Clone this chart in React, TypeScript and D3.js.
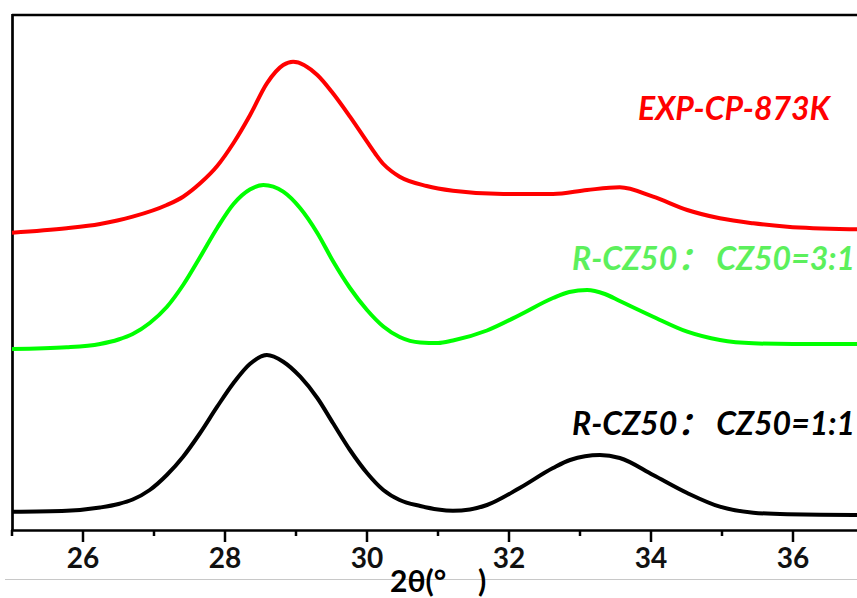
import React from "react";
import * as d3 from "d3";

// 2θ (degrees) sample positions and intensities (a.u.)
const blackAngles = [25.0, 25.77, 26.24, 26.5, 26.7, 26.94, 27.18, 27.41, 27.65, 27.89, 28.12, 28.35, 28.59, 28.82, 29.06, 29.3, 29.52, 29.76, 30.0, 30.23, 30.46, 30.75, 31.0, 31.21, 31.45, 31.69, 32.15, 32.62, 32.86, 33.28, 33.56, 34.03, 34.51, 34.97, 35.44, 35.92, 36.85, 37.0];
const blackValues = [18.3, 19.3, 22.5, 26, 30.5, 40, 55, 73.3, 97, 123.3, 147, 166, 175, 168.3, 153.3, 132, 107, 80, 57, 40, 30, 24, 20.5, 19.3, 20.5, 25, 42, 62, 70, 75, 72, 55, 37, 23.3, 17.3, 15.7, 15, 15];

const greenAngles = [25.0, 25.77, 26.24, 26.5, 26.7, 26.94, 27.18, 27.41, 27.65, 27.89, 28.12, 28.35, 28.54, 28.82, 29.06, 29.3, 29.52, 29.76, 30.0, 30.23, 30.46, 30.75, 31.0, 31.21, 31.69, 32.15, 32.62, 32.85, 33.1, 33.35, 33.56, 34.03, 34.51, 34.97, 35.44, 36.0, 36.85, 37.0];
const greenValues = [181, 182.7, 186, 190.5, 196, 207, 223, 245, 273, 302, 326, 340.5, 345, 338.3, 321.7, 297, 269, 242, 220, 203.5, 193, 187.5, 187, 189.5, 199.5, 215, 232, 238, 240, 236, 229, 213.3, 198.3, 190, 186.7, 186, 186, 186];

const redAngles = [25.0, 25.77, 26.24, 26.7, 27.18, 27.41, 27.65, 27.89, 28.12, 28.35, 28.59, 28.82, 28.96, 29.3, 29.52, 29.76, 30.0, 30.12, 30.23, 30.35, 30.46, 30.84, 31.21, 31.92, 32.62, 33.1, 33.56, 34.03, 34.51, 34.97, 35.44, 35.92, 36.85, 37.0];
const redValues = [297.3, 301.7, 306, 313.3, 325, 333.3, 346.7, 364, 387, 414.5, 446.7, 465, 468.3, 455, 436.7, 413.3, 388.3, 376, 366, 358.5, 353.3, 344, 339.3, 336, 336, 340, 342.7, 333.3, 320, 311.7, 306.7, 303.3, 300.7, 300.5];

const majorTicks = [26, 28, 30, 32, 34, 36];
const minorTicks = [25, 27, 29, 31, 33, 35, 37];

const seriesLabels = ["EXP-CP-873K", "R-CZ50： CZ50=3:1", "R-CZ50： CZ50=1:1"];
const xTitle = "2θ(°";

const W = 857;
const H = 598;

export default function App() {
  const x = d3.scaleLinear().domain([25, 37]).range([12, 864]);
  const y = d3.scaleLinear().domain([0, 515]).range([530, 15]);
  const line = d3
    .line<[number, number]>()
    .x((d) => x(d[0]))
    .y((d) => y(d[1]))
    .curve(d3.curveMonotoneX);

  const zip = (a: number[], b: number[]) => a.map((v, i) => [v, b[i]] as [number, number]);
  const series = [
    { pts: zip(redAngles, redValues), color: "#ff0000" },
    { pts: zip(greenAngles, greenValues), color: "#00ff00" },
    { pts: zip(blackAngles, blackValues), color: "#000000" },
  ];

  const labelFont = "Lato, 'Noto Sans CJK SC', sans-serif";

  return (
    <svg
      width={W}
      height={H}
      style={{ position: "absolute", left: 0, top: 0, background: "#fff" }}
    >
      <rect x={0} y={0} width={W} height={H} fill="#fff" />
      {/* faint line at bottom */}
      <line x1={5} x2={W} y1={579.5} y2={579.5} stroke="#c8c8c8" strokeWidth={1} />
      {/* frame */}
      <line x1={12} x2={W} y1={15} y2={15} stroke="#000" strokeWidth={2.7} />
      <line x1={12.5} x2={12.5} y1={14} y2={531} stroke="#000" strokeWidth={2.7} />
      <line x1={11} x2={W} y1={530.5} y2={530.5} stroke="#000" strokeWidth={2.7} />
      {majorTicks.map((t) => (
        <line key={"M" + t} x1={x(t)} x2={x(t)} y1={530} y2={542} stroke="#000" strokeWidth={2.5} />
      ))}
      {minorTicks.map((t) => (
        <line key={"m" + t} x1={x(t)} x2={x(t)} y1={530} y2={536} stroke="#000" strokeWidth={2.5} />
      ))}
      {majorTicks.map((t) => (
        <text
          key={"l" + t}
          x={x(t)}
          y={568}
          textAnchor="middle"
          fontFamily="Lato, sans-serif"
          fontWeight="bold"
          fontSize={28}
          fill="#111"
        >
          {t}
        </text>
      ))}
      <text x={390} y={592} fontFamily="Lato, sans-serif" fontWeight="bold" fontSize={30} fill="#000">
        {xTitle}
      </text>
      <text x={478} y={592} fontFamily="Lato, sans-serif" fontWeight="bold" fontSize={30} fill="#000">
        )
      </text>
      {series.map((s, i) => (
        <path
          key={i}
          d={line(s.pts) || ""}
          fill="none"
          stroke={s.color}
          strokeWidth={4}
          strokeLinejoin="round"
        />
      ))}
      <text x={638} y={120} fontFamily={labelFont} fontWeight="bold" fontStyle="italic" fontSize={32} fill="#ff0000">
        {seriesLabels[0]}
      </text>
      <text x={572} y={270} fontFamily={labelFont} fontWeight="bold" fontStyle="italic" fontSize={32} fill="#5cf05c" style={{ whiteSpace: "pre" }}>
        {seriesLabels[1]}
      </text>
      <text x={572} y={435} fontFamily={labelFont} fontWeight="bold" fontStyle="italic" fontSize={32} fill="#000" style={{ whiteSpace: "pre" }}>
        {seriesLabels[2]}
      </text>
    </svg>
  );
}
